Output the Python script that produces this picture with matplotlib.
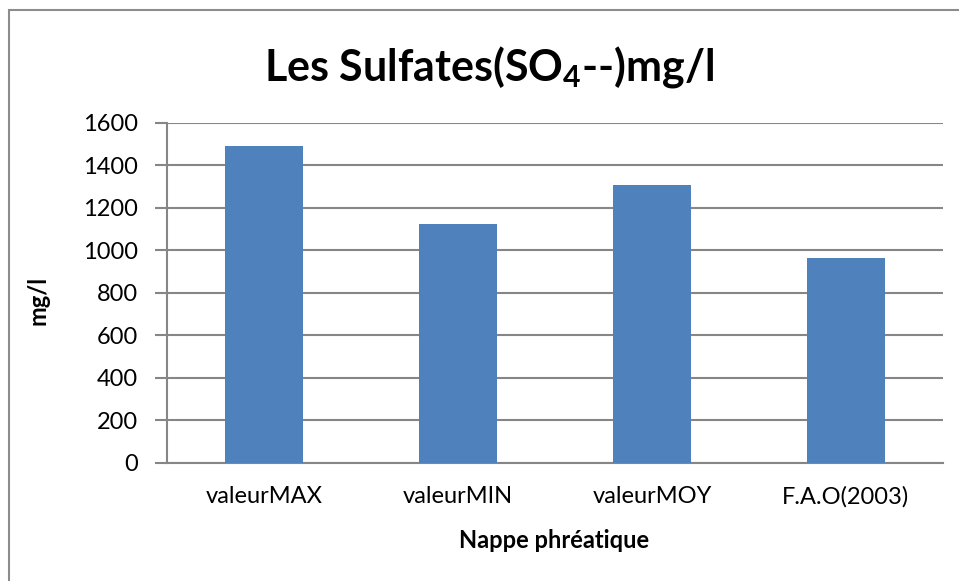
import matplotlib
matplotlib.use("Agg")
import matplotlib.pyplot as plt
from matplotlib.patches import Rectangle

categories = ["valeurMAX", "valeurMIN", "valeurMOY", "F.A.O(2003)"]
values = [1491, 1122, 1306, 964]
yticks = [0, 200, 400, 600, 800, 1000, 1200, 1400, 1600]

FONT = "Lato"
plt.rcParams['font.family'] = [FONT, 'DejaVu Sans']
plt.rcParams['mathtext.fontset'] = 'custom'
plt.rcParams['mathtext.rm'] = 'Lato:bold'
plt.rcParams['mathtext.bf'] = 'Lato:bold'
plt.rcParams['mathtext.it'] = 'Lato:bold'

W, H = 959, 581
fig = plt.figure(figsize=(W/100, H/100), dpi=100)
fig.patch.set_facecolor('white')

# outer chart border
fig.patches.append(Rectangle((8.5/W, -0.1), 1.2, (H-10)/H + 0.1, transform=fig.transFigure,
                             fill=False, edgecolor='#8c8c8c', linewidth=1.5))

left, right = 167/W, 943/W
bottom, top = 1 - 462.5/H, 1 - 122.7/H
ax = fig.add_axes([left, bottom, right-left, top-bottom])
axw, axh = right - left, top - bottom

x = range(len(categories))
ax.bar(x, values, width=0.4, color='#4F81BD', zorder=3)
ax.set_xlim(-0.5, len(categories) - 0.5)
ax.set_ylim(0, 1600)
ax.set_yticks(yticks)
ax.set_yticklabels([str(v) for v in yticks], fontsize=17)
ax.set_xticks(list(x))
ax.set_xticklabels(categories, fontsize=17)
ax.tick_params(axis='x', length=0, pad=17)
ax.tick_params(axis='y', length=9, width=1.5, color='#868686', pad=12)
ax.grid(axis='y', color='#868686', linewidth=1.5, zorder=0)
for s in ['top', 'right']:
    ax.spines[s].set_visible(False)
ax.spines['left'].set_color('#868686')
ax.spines['left'].set_linewidth(1.5)
ax.spines['bottom'].set_color('#868686')
ax.spines['bottom'].set_linewidth(1.5)

ax.set_xlabel("Nappe phréatique", fontsize=17, fontweight='bold')
ax.set_ylabel("mg/l", fontsize=17, fontweight='bold')
ax.xaxis.set_label_coords((554/W - left)/axw, (1 - 541/H - bottom)/axh)
ax.xaxis.label.set_va('center')
ax.yaxis.set_label_coords((38/W - left)/axw, (1 - 300/H - bottom)/axh)
ax.yaxis.label.set_va('center')

fig.text(489/W, 1 - 67/H, r"Les Sulfates(SO$_\mathbf{4}$--)mg/l", fontsize=31,
         fontweight='bold', ha='center', va='center')

fig.savefig("out.png", dpi=100, facecolor='white')
